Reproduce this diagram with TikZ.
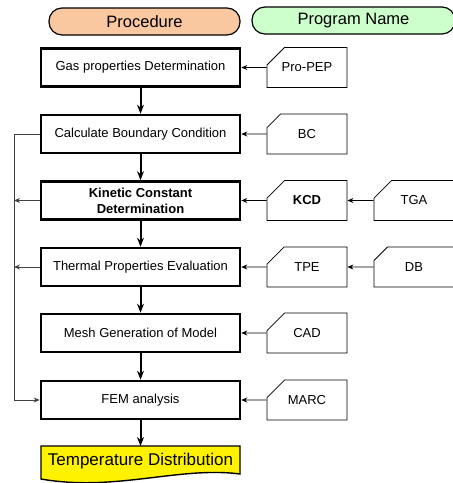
\documentclass[tikz,border=0pt]{standalone}
\usepackage{fontspec}
\setmainfont{Liberation Sans}
\usetikzlibrary{shapes.misc,arrows.meta}
\definecolor{peach}{HTML}{FAC8A0}
\definecolor{mint}{HTML}{CCFFCC}
\definecolor{fbgray}{HTML}{404040}
\begin{document}
\begin{tikzpicture}[x=1pt,y=-1pt,
  header/.style={draw, line width=1.2pt, rounded corners=13pt, minimum height=27pt, inner sep=0pt, font=\fontsize{16.5}{18}\selectfont},
  mainbox/.style={draw, line width=2.6pt, minimum width=199pt, minimum height=38pt, inner sep=0pt, align=center, font=\fontsize{13}{16}\selectfont},
  progbox/.style={draw, line width=0.8pt, chamfered rectangle, chamfered rectangle corners=north west, chamfered rectangle xsep=13pt, chamfered rectangle ysep=13pt, minimum width=80pt, minimum height=40pt, inner sep=0pt, font=\fontsize{13}{16}\selectfont},
  mainarrow/.style={line width=2pt, -{Stealth[length=9pt,width=7pt]}},
  thinarrow/.style={line width=0.8pt, -{Stealth[length=6pt,width=5pt]}},
  fbarrow/.style={line width=0.9pt, draw=fbgray, -{Stealth[length=6pt,width=5pt]}}
]
\useasboundingbox (0,0) rectangle (453,483);

% headers
\node[header, fill=peach, minimum width=191pt] (hproc) at (144.5,21.5) {Procedure};
\node[header, fill=mint, minimum width=203pt] (hprog) at (353.5,20.5) {Program Name};

% main procedure boxes
\node[mainbox] (b1) at (140.5,67.5) {Gas properties Determination};
\node[mainbox] (b2) at (140.5,134) {Calculate Boundary Condition};
\node[mainbox, font=\fontsize{13}{16}\selectfont\bfseries] (b3) at (140.5,200.5) {Kinetic Constant\\Determination};
\node[mainbox] (b4) at (140.5,267) {Thermal Properties Evaluation};
\node[mainbox] (b5) at (140.5,333) {Mesh Generation of Model};
\node[mainbox] (b6) at (140.5,400) {FEM analysis};

% result (document shape)
\coordinate (rtl) at (41,446);
\coordinate (rtr) at (240,446);
\coordinate (rbr) at (240,474);
\coordinate (rbl) at (41,479);
\filldraw[fill=yellow, line width=1.4pt] (rtl) -- (rtr) -- (rbr)
  .. controls (180,466) and (115,492) .. (rbl) -- cycle;
\node[font=\fontsize{17}{20}\selectfont, inner sep=0pt] (res) at (140.5,461) {Temperature Distribution};

% program boxes
\node[progbox] (p1) at (307,67.5) {Pro-PEP};
\node[progbox] (p2) at (307,134) {BC};
\node[progbox, font=\fontsize{13}{16}\selectfont\bfseries] (p3) at (307,200.5) {KCD};
\node[progbox] (p4) at (307,267) {TPE};
\node[progbox] (p5) at (307,333) {CAD};
\node[progbox] (p6) at (307,400) {MARC};
\node[progbox] (q3) at (414,200.5) {TGA};
\node[progbox] (q4) at (414,267) {DB};

% vertical flow
\draw[mainarrow] (b1) -- (b2);
\draw[mainarrow] (b2) -- (b3);
\draw[mainarrow] (b3) -- (b4);
\draw[mainarrow] (b4) -- (b5);
\draw[mainarrow] (b5) -- (b6);
\draw[mainarrow] (b6.south) -- (rtl -| b6.south);

% program inputs
\draw[thinarrow] (p1) -- (b1);
\draw[thinarrow] (p2) -- (b2);
\draw[thinarrow] (p3) -- (b3);
\draw[thinarrow] (p4) -- (b4);
\draw[thinarrow] (p5) -- (b5);
\draw[thinarrow] (p6) -- (b6);
\draw[thinarrow] (q3) -- (p3);
\draw[thinarrow] (q4) -- (p4);

% feedback line on the left
\coordinate (ltop) at (14,134);
\coordinate (lbot) at (14,400);
\draw[fbarrow] (b2.west) -- (ltop) -- (lbot) -- (b6.west);
\draw[fbarrow] (b3.west) -- (b3.west -| ltop);
\draw[fbarrow] (b4.west) -- (b4.west -| ltop);
\end{tikzpicture}
\end{document}
